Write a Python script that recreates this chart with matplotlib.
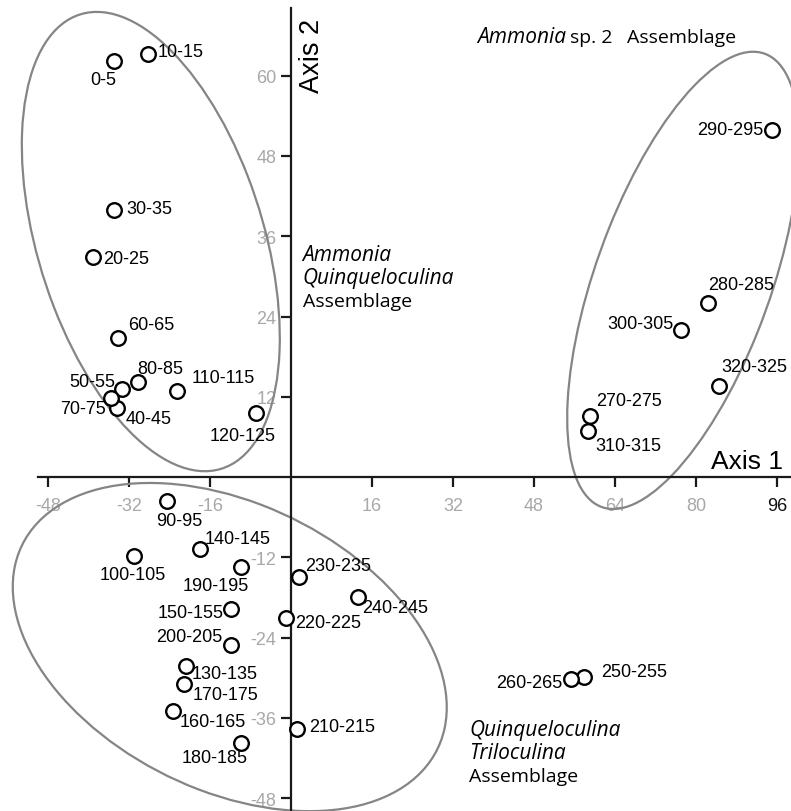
import matplotlib
matplotlib.use("Agg")
import matplotlib.pyplot as plt
from matplotlib.patches import Ellipse

plt.rcParams['font.family'] = ['Liberation Sans', 'DejaVu Sans']

# sample depth intervals and their ordination scores
samples = ["0-5", "10-15", "20-25", "30-35", "40-45", "50-55", "60-65", "70-75",
           "80-85", "90-95", "100-105", "110-115", "120-125", "130-135", "140-145",
           "150-155", "160-165", "170-175", "180-185", "190-195", "200-205",
           "210-215", "220-225", "230-235", "240-245", "250-255", "260-265",
           "270-275", "280-285", "290-295", "300-305", "310-315", "320-325"]
axis1 = [-35.0, -28.3, -39.1, -35.0, -34.4, -33.4, -34.2, -35.6,
         -30.2, -24.5, -31.0, -22.5, -6.9, -20.8, -18.0,
         -11.9, -23.3, -21.1, -9.9, -9.9, -11.9,
         1.2, -1.0, 1.6, 13.2, 57.9, 55.3,
         59.1, 82.4, 95.1, 77.1, 58.7, 84.6]
axis2 = [62.2, 63.2, 32.9, 39.9, 10.3, 13.2, 20.8, 11.8,
         14.2, -3.6, -11.8, 12.9, 9.6, -28.2, -10.8,
         -19.7, -35.0, -30.9, -39.8, -13.5, -25.1,
         -37.7, -21.1, -14.9, -17.9, -29.9, -30.2,
         9.1, 26.0, 51.9, 22.0, 6.9, 13.6]

xticks = [-48, -32, -16, 16, 32, 48, 64, 80, 96]
yticks = [-48, -36, -24, -12, 12, 24, 36, 48, 60]

# label placement: (dx px, dy px downwards, ha)
label_pos = {
    "0-5": (-11, 19, "center"), "10-15": (10, -3, "left"), "30-35": (12, -2, "left"),
    "20-25": (10, 2, "left"), "60-65": (10, -13, "left"), "80-85": (-1, -14, "left"),
    "50-55": (-7, -7, "right"), "70-75": (-5, 10, "right"), "40-45": (9, 10, "left"),
    "110-115": (14, -13, "left"), "120-125": (-13, 23, "center"),
    "90-95": (12, 19, "center"), "140-145": (5, -11, "left"),
    "100-105": (-1, 18, "center"), "190-195": (-25, 18, "center"),
    "150-155": (-7, 4, "right"), "200-205": (-8, -9, "right"),
    "130-135": (6, 8, "left"), "170-175": (8, 11, "left"), "160-165": (7, 10, "left"),
    "180-185": (-26, 14, "center"), "220-225": (9, 4, "left"),
    "230-235": (6, -11, "left"), "240-245": (4, 11, "left"), "210-215": (12, -3, "left"),
    "260-265": (-8, 3, "right"), "250-255": (17, -6, "left"),
    "290-295": (-9, 0, "right"), "280-285": (0, -19, "left"),
    "300-305": (-8, -6, "right"), "320-325": (2, -20, "left"),
    "270-275": (6, -16, "left"), "310-315": (7, 15, "left"),
}

fig = plt.figure(figsize=(7.91, 8.12), dpi=100)
ax = fig.add_axes([0, 0, 1, 1])
ax.set_xlim(-57.5, 98.8)
ax.set_ylim(-49.9, 71.45)

# group envelopes (centre, width, height, angle in data units)
groups = [((-27.7, 35.2), 73.9, 43.0, 117.1),
          ((77.5, 29.4), 75.3, 33.2, 62.1),
          ((-12.1, -25.4), 88.3, 44.3, -16.0)]
for c, w, h, a in groups:
    ax.add_patch(Ellipse(c, w, h, angle=a, fill=False, edgecolor='#858585',
                         linewidth=1.6, zorder=2))

for s in ['top', 'right']:
    ax.spines[s].set_visible(False)
ax.spines['left'].set_position('zero')
ax.spines['bottom'].set_position('zero')
ax.spines['left'].set_bounds(-49.9, 70.1)
ax.spines['bottom'].set_bounds(-50.0, 98.8)
for s in ['left', 'bottom']:
    ax.spines[s].set_linewidth(1.6)
    ax.spines[s].set_color('#1a1a1a')
    ax.spines[s].set_zorder(3)

ax.set_xticks(xticks)
ax.set_yticks(yticks)
ax.set_xticklabels([str(t) for t in xticks])
ax.set_yticklabels([str(t) for t in yticks])
ax.tick_params(axis='x', direction='out', length=7, width=1.6, color='#1a1a1a',
               labelsize=13, labelcolor='#a8a8a8', pad=7)
ax.tick_params(axis='y', direction='out', length=7, width=1.6, color='#1a1a1a',
               labelsize=13, labelcolor='#a8a8a8', pad=3.5)
ax.get_xticklabels()[-1].set_color('#111111')
ax.patch.set_alpha(0)

ax.plot(axis1, axis2, linestyle='none', marker='o', markersize=10.5,
        markerfacecolor='white', markeredgecolor='black', markeredgewidth=1.7,
        zorder=5, clip_on=False)

for name, x, y in zip(samples, axis1, axis2):
    dx, dy, ha = label_pos[name]
    ax.annotate(name, (x, y), xytext=(dx, -dy), textcoords='offset pixels',
                ha=ha, va='center', fontsize=13, color='black', zorder=4)

# axis titles
ax.text(83.0, 2.4, "Axis 1", fontsize=19, ha='left', va='center')
ax.text(4.15, 63.1, "Axis 2", fontsize=19.5, ha='center', va='center', rotation=90)

# assemblage names
afont = ['Open Sans', 'DejaVu Sans']
t1 = ax.text(36.8, 65.8, "Ammonia", fontsize=15, style='italic', family=afont,
             ha='left', va='center')
t2 = ax.annotate("sp. 2", xy=(1, 0.5), xycoords=t1, xytext=(4, 0),
                 textcoords='offset pixels', ha='left', va='center',
                 fontsize=14, family=afont)
ax.annotate("Assemblage", xy=(1, 0.5), xycoords=t2, xytext=(14, 0),
            textcoords='offset pixels', ha='left', va='center',
            fontsize=14, family=afont)

for (x0, y0), lines in [((2.3, 33.3), [("Ammonia", 'italic'), ("Quinqueloculina", 'italic'),
                                       ("Assemblage", 'normal')]),
                        ((35.2, -37.7), [("Quinqueloculina", 'italic'), ("Triloculina", 'italic'),
                                         ("Assemblage", 'normal')])]:
    for i, (txt, st) in enumerate(lines):
        ax.annotate(txt, (x0, y0), xytext=(0, -23.5 * i), textcoords='offset pixels',
                    ha='left', va='center', fontsize=15 if st == 'italic' else 14,
                    style=st, family=afont)

fig.savefig("out.png", dpi=100)
